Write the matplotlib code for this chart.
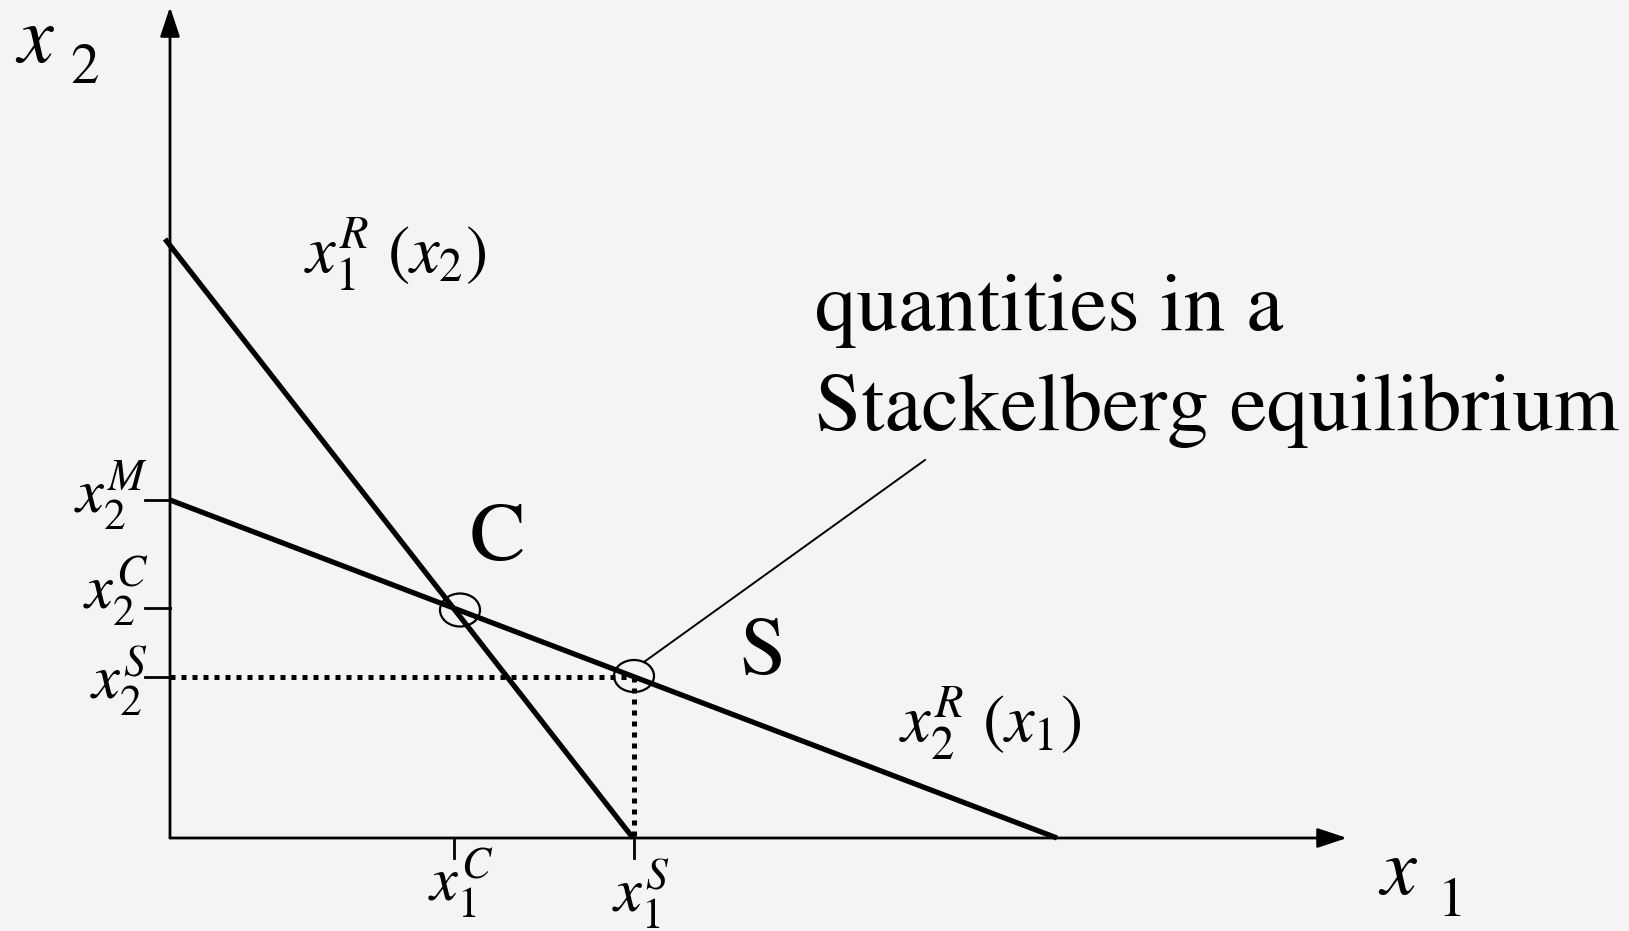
"""Plot Cournot and Stackelberg quantities on the reaction curves"""
from matplotlib import pyplot as plt
from matplotlib.patches import Ellipse

# reaction curves as (x1, x2) end points, units = quantity scale of the picture
FIRM1_REACTION_X1 = [-5, 463]
FIRM1_REACTION_X2 = [599, 0]
FIRM2_REACTION_X1 = [0, 887]
FIRM2_REACTION_X2 = [338, 0]

# marked quantities on the axes
X1_TICKS = [284, 464]
X1_TICK_LABELS = [r"$x_1^C$", r"$x_1^S$"]
X2_TICKS = [338, 230, 161]
X2_TICK_LABELS = [r"$x_2^M$", r"$x_2^C$", r"$x_2^S$"]

X1_AXIS_END = 1177
X2_AXIS_END = 831

BG = "#f4f4f4"

# STIX ships with matplotlib, so the Times look is always there
plt.rcParams["mathtext.fontset"] = "stix"
plt.rcParams["font.family"] = ["STIXGeneral", "Liberation Serif", "DejaVu Serif"]


def draw_axes(ax):
    """Draw both axes as arrows"""
    arrow = dict(
        arrowstyle="-|>,head_length=0.6,head_width=0.2",
        mutation_scale=30,
        lw=2.0,
        color="black",
        shrinkA=0,
        shrinkB=0,
    )
    ax.annotate("", xy=(X1_AXIS_END, 0), xytext=(0, 0), arrowprops=arrow)
    ax.annotate("", xy=(0, X2_AXIS_END), xytext=(0, 0), arrowprops=arrow)

    # axis names: big italic x with an upright index
    ax.text(-155, 776, r"$x$", fontsize=58, va="baseline", ha="left")
    ax.text(-100, 755, "2", fontsize=41, va="baseline", ha="left")
    ax.text(1208, -56, r"$x$", fontsize=58, va="baseline", ha="left")
    ax.text(1268, -78, "1", fontsize=41, va="baseline", ha="left")


def draw_ticks(ax):
    """Small tick marks with their labels"""
    x2_label_shift = [5, 16, -5]
    for value, label, shift in zip(X2_TICKS, X2_TICK_LABELS, x2_label_shift):
        ax.plot([-25, 0], [value, value], color="black", lw=2.0)
        ax.text(-22, value + shift, label, fontsize=45, ha="right", va="center")

    x1_label_shift = [(7, -46), (7, -57)]
    for value, label, (dx, dy) in zip(X1_TICKS, X1_TICK_LABELS, x1_label_shift):
        ax.plot([value, value], [-20, 0], color="black", lw=2.0)
        ax.text(value + dx, dy, label, fontsize=45, ha="center", va="center")


fig = plt.figure(figsize=(16.29, 9.31), dpi=100, facecolor=BG)
ax = fig.add_axes([0, 0, 1, 1])
ax.set_facecolor(BG)
ax.set_xlim(-170, 1459)
ax.set_ylim(-93, 838)
ax.axis("off")

draw_axes(ax)
draw_ticks(ax)

# reaction curves
ax.plot(FIRM1_REACTION_X1, FIRM1_REACTION_X2, color="black", lw=3.8,
        solid_capstyle="butt")
ax.plot(FIRM2_REACTION_X1, FIRM2_REACTION_X2, color="black", lw=3.8,
        solid_capstyle="butt")
ax.text(225, 584, r"$x_1^R\ (x_2)$", fontsize=48, ha="center", va="center")
ax.text(820, 115, r"$x_2^R\ (x_1)$", fontsize=48, ha="center", va="center")

# dotted guides to the Stackelberg quantities
x1_s, x2_s = X1_TICKS[1], X2_TICKS[2]
x1_c, x2_c = X1_TICKS[0], X2_TICKS[1]
ax.plot([0, x1_s], [x2_s, x2_s], color="black", lw=3.6,
        linestyle=(0, (1, 1.2)), dash_capstyle="butt")
ax.plot([x1_s, x1_s], [x2_s, 0], color="black", lw=3.6,
        linestyle=(0, (1, 1.2)), dash_capstyle="butt")

# equilibrium circles
ax.add_patch(Ellipse((x1_c + 6, x2_c - 2), 40, 33, fill=False, lw=1.6,
                     edgecolor="black"))
ax.add_patch(Ellipse((x1_s, x2_s + 1), 40, 32, fill=False, lw=1.6,
                     edgecolor="black"))
ax.text(300, 278, "C", fontsize=60, va="baseline", ha="left")
ax.text(569, 164, "S", fontsize=60, va="baseline", ha="left")

# pointer to the Stackelberg point
ax.plot([x1_s + 10, 755], [x2_s + 15, 378], color="black", lw=1.4)
ax.text(645, 508, "quantities in a", fontsize=60, va="baseline", ha="left")
ax.text(645, 408, "Stackelberg equilibrium", fontsize=60, va="baseline",
        ha="left")

plt.savefig("out.png", dpi=100, facecolor=BG)
